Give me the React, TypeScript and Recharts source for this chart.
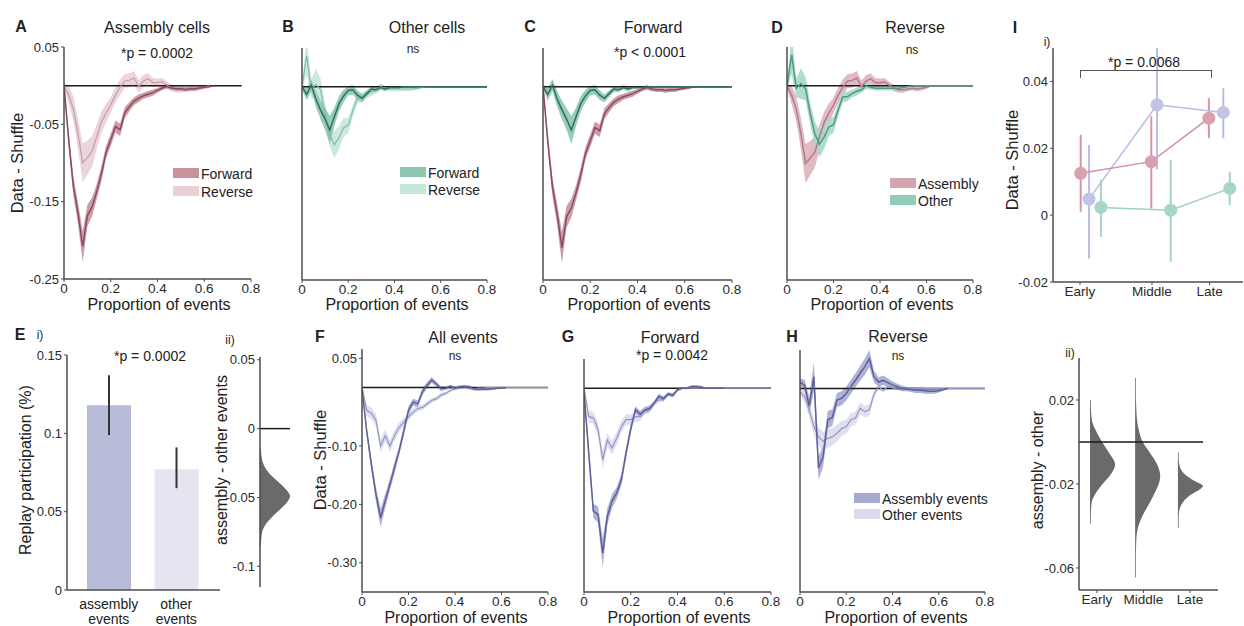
import React from 'react';
import {
  ComposedChart, Area, Line, XAxis, YAxis, ReferenceLine, Scatter, ErrorBar,
  BarChart, Bar, Cell,
} from 'recharts';

const FONT = '"Liberation Sans", Arial, Helvetica, sans-serif';
const AXIS = '#4d4d4d';
const TICK = { fill: '#2a2a2a', fontSize: 13 };
const XTICK = { fill: '#2a2a2a', fontSize: 13.5 };

// proportion of events (x grid of the curves)
const propX = [
  0, 0.02, 0.04, 0.06, 0.08, 0.1, 0.12, 0.14, 0.16, 0.18, 0.2, 0.22, 0.24, 0.26, 0.28, 0.3,
  0.32, 0.34, 0.36, 0.38, 0.4, 0.42, 0.44, 0.46, 0.48, 0.5, 0.52, 0.54, 0.56, 0.58, 0.6,
  0.62, 0.64, 0.66, 0.68, 0.7, 0.72, 0.74, 0.76, 0.78, 0.8,
];

// assembly cells, forward / reverse
const asmFwd = [0, -0.07, -0.13, -0.165, -0.208, -0.168, -0.157, -0.137, -0.114, -0.086, -0.07, -0.053, -0.057, -0.035, -0.027, -0.02, -0.016, -0.013, -0.011, -0.009, -0.006, -0.003, -0.001, -0.003, -0.004, -0.004, -0.005, -0.004, -0.004, -0.003, -0.002, -0.001, 0];
const asmFwdSem = [0.004, 0.01, 0.012, 0.014, 0.02, 0.014, 0.012, 0.01, 0.01, 0.008, 0.008, 0.008, 0.008, 0.007, 0.006, 0.005, 0.005, 0.004, 0.004, 0.004, 0.003, 0.003, 0.003, 0.003, 0.003, 0.003, 0.003, 0.003, 0.003, 0.002, 0.002, 0.002, 0.001];
const asmRev = [0, -0.012, -0.03, -0.062, -0.1, -0.093, -0.085, -0.066, -0.047, -0.035, -0.025, -0.012, -0.002, 0.006, 0.007, 0.01, -0.001, 0.006, 0.009, 0.004, 0.004, 0.005, 0.001, -0.003, -0.005, -0.005, -0.004, -0.003, -0.004, -0.003, -0.002, 0];
const asmRevSem = [0.003, 0.012, 0.016, 0.02, 0.025, 0.022, 0.02, 0.016, 0.014, 0.012, 0.01, 0.01, 0.01, 0.009, 0.009, 0.009, 0.008, 0.008, 0.007, 0.006, 0.005, 0.005, 0.004, 0.004, 0.004, 0.004, 0.003, 0.003, 0.003, 0.003, 0.002, 0.001];

// other cells, forward / reverse
const othFwd = [0, -0.01, 0.002, -0.016, -0.03, -0.042, -0.056, -0.039, -0.022, -0.012, -0.005, -0.004, -0.011, -0.015, -0.009, -0.003, -0.004, -0.001, -0.003, -0.001, -0.001, -0.001, 0, 0, 0, 0, 0, 0, 0, 0, 0, 0, 0, 0, 0, 0, 0, 0, 0, 0, 0];
const othFwdSem = [0.003, 0.008, 0.008, 0.01, 0.012, 0.014, 0.018, 0.012, 0.01, 0.008, 0.006, 0.006, 0.006, 0.005, 0.004, 0.004, 0.003, 0.003, 0.003, 0.002, 0.002, 0.002, 0.001, 0.001, 0.001, 0.001, 0.001, 0.001, 0.001, 0.001, 0.001, 0.001, 0.001, 0.001, 0.001, 0.001, 0.001, 0.001, 0.001, 0.001, 0.001];
const othRev = [0, 0.04, -0.003, 0.003, -0.004, -0.036, -0.062, -0.075, -0.066, -0.053, -0.05, -0.031, -0.014, -0.014, -0.01, -0.007, -0.005, 0, -0.002, -0.003, -0.003, -0.003, -0.003, -0.003, -0.003, -0.002, -0.001, 0, 0, 0, 0, 0, 0, 0, 0, 0, 0, 0, 0, 0, 0];
const othRevSem = [0.004, 0.025, 0.012, 0.02, 0.015, 0.014, 0.016, 0.017, 0.015, 0.012, 0.01, 0.008, 0.007, 0.006, 0.005, 0.005, 0.004, 0.004, 0.003, 0.003, 0.003, 0.003, 0.003, 0.003, 0.002, 0.002, 0.001, 0.001, 0.001, 0.001, 0.001, 0.001, 0.001, 0.001, 0.001, 0.001, 0.001, 0.001, 0.001, 0.001, 0.001];

// assembly events vs other events: all / forward / reverse
const evAsmAll = [0, -0.074, -0.131, -0.183, -0.223, -0.194, -0.166, -0.137, -0.108, -0.074, -0.039, -0.025, -0.028, -0.007, 0.004, 0.013, 0.006, -0.002, -0.001, 0.002, -0.001, 0.001, 0.002, 0.001, -0.002, -0.003, -0.003, -0.003, -0.002, -0.001, -0.001, 0];
const evAsmAllSem = [0.003, 0.008, 0.01, 0.012, 0.016, 0.012, 0.01, 0.01, 0.008, 0.008, 0.007, 0.006, 0.006, 0.006, 0.005, 0.005, 0.004, 0.004, 0.003, 0.003, 0.003, 0.003, 0.003, 0.003, 0.003, 0.003, 0.002, 0.002, 0.002, 0.002, 0.001, 0.001];
const evOthAll = [0, -0.039, -0.044, -0.056, -0.1, -0.082, -0.1, -0.082, -0.068, -0.059, -0.05, -0.042, -0.036, -0.034, -0.028, -0.022, -0.019, -0.013, -0.01, -0.005, -0.002, 0.002, 0.001, -0.002, -0.002, -0.001, -0.001, 0, 0, 0, 0, 0, 0, 0, 0, 0, 0, 0, 0, 0, 0];
const evOthAllSem = [0.004, 0.01, 0.01, 0.01, 0.012, 0.01, 0.01, 0.009, 0.008, 0.007, 0.006, 0.006, 0.005, 0.005, 0.005, 0.004, 0.004, 0.004, 0.003, 0.003, 0.003, 0.002, 0.002, 0.002, 0.002, 0.001, 0.001, 0.001, 0.001, 0.001, 0.001, 0.001, 0.001, 0.001, 0.001, 0.001, 0.001, 0.001, 0.001, 0.001, 0.001];
const evAsmFwd = [-0.006, -0.11, -0.211, -0.217, -0.283, -0.22, -0.194, -0.18, -0.157, -0.111, -0.07, -0.037, -0.045, -0.038, -0.035, -0.026, -0.014, -0.018, -0.01, -0.012, -0.003, 0, 0, 0.003, 0.003, 0.002, 0, 0, 0, 0, 0];
const evAsmFwdSem = [0.004, 0.015, 0.012, 0.014, 0.025, 0.014, 0.012, 0.01, 0.01, 0.01, 0.008, 0.006, 0.006, 0.005, 0.005, 0.004, 0.004, 0.004, 0.003, 0.003, 0.003, 0.002, 0.002, 0.002, 0.002, 0.002, 0.001, 0.001, 0.001, 0.001, 0.001];
const evOthFwd = [0, -0.049, -0.051, -0.071, -0.123, -0.089, -0.103, -0.086, -0.066, -0.054, -0.054, -0.049, -0.049, -0.038, -0.037, -0.026, -0.02, -0.02, -0.011, -0.014, -0.003, 0, 0, 0, 0, 0, 0, 0, 0, 0, 0, 0, 0, 0, 0, 0, 0, 0, 0, 0, 0];
const evOthFwdSem = [0.004, 0.01, 0.01, 0.012, 0.016, 0.012, 0.012, 0.011, 0.01, 0.009, 0.009, 0.009, 0.008, 0.007, 0.006, 0.005, 0.005, 0.004, 0.004, 0.003, 0.002, 0.001, 0.001, 0.001, 0.001, 0.001, 0.001, 0.001, 0.001, 0.001, 0.001, 0.001, 0.001, 0.001, 0.001, 0.001, 0.001, 0.001, 0.001, 0.001, 0.001];
const evAsmRev = [0.011, 0.005, -0.03, 0.02, -0.137, -0.117, -0.054, -0.05, -0.02, -0.017, -0.009, 0.003, 0.014, 0.026, 0.037, 0.051, 0.02, 0.011, 0.014, 0.01, 0.006, 0.003, 0, -0.001, -0.002, -0.003, -0.003, -0.004, -0.005, -0.005, -0.004, -0.002, 0];
const evAsmRevSem = [0.006, 0.01, 0.015, 0.025, 0.02, 0.018, 0.015, 0.014, 0.012, 0.012, 0.012, 0.012, 0.012, 0.013, 0.014, 0.015, 0.01, 0.008, 0.008, 0.007, 0.006, 0.005, 0.005, 0.004, 0.004, 0.005, 0.005, 0.005, 0.004, 0.004, 0.003, 0.002, 0.001];
const evOthRev = [-0.006, -0.014, -0.037, -0.066, -0.083, -0.091, -0.086, -0.083, -0.077, -0.069, -0.066, -0.054, -0.051, -0.034, -0.04, -0.037, -0.01, 0.003, -0.003, 0.003, 0.001, -0.001, 0, 0, 0, 0, 0, 0, 0, 0, 0, 0, 0, 0, 0, 0, 0, 0, 0, 0, 0];
const evOthRevSem = [0.006, 0.01, 0.012, 0.014, 0.016, 0.016, 0.016, 0.015, 0.014, 0.013, 0.012, 0.012, 0.011, 0.01, 0.01, 0.01, 0.006, 0.005, 0.004, 0.004, 0.003, 0.002, 0.001, 0.001, 0.001, 0.001, 0.001, 0.001, 0.001, 0.001, 0.001, 0.001, 0.001, 0.001, 0.001, 0.001, 0.001, 0.001, 0.001, 0.001, 0.001];

// E i) replay participation
const barCats = ['assembly events', 'other events'];
const barVals = [0.118, 0.077];
const barLo = [0.099, 0.065];
const barHi = [0.137, 0.091];

// E ii) assembly - other events distribution
const distEY = [-0.085, -0.078, -0.073, -0.068, -0.063, -0.058, -0.053, -0.049, -0.045, -0.04, -0.035, -0.03, -0.025, -0.02, -0.014];
const distEW = [0.03, 0.05, 0.1, 0.24, 0.45, 0.7, 0.92, 1, 0.9, 0.68, 0.42, 0.22, 0.1, 0.05, 0.03];

// I i) early / middle / late
const stagePos = [0, 1, 1.8];
const stageNames = ['Early', 'Middle', 'Late'];
const pinkX = [0.01, 0.99, 1.79];
const pinkMean = [0.0125, 0.016, 0.029];
const pinkLo = [0.001, 0.002, 0.023];
const pinkHi = [0.024, 0.0296, 0.035];
const lavX = [0.125, 1.07, 1.99];
const lavMean = [0.0048, 0.033, 0.0307];
const lavLo = [-0.013, 0.0137, 0.023];
const lavHi = [0.021, 0.05, 0.038];
const tealX = [0.29, 1.26, 2.08];
const tealMean = [0.0023, 0.0015, 0.008];
const tealLo = [-0.0065, -0.014, 0.003];
const tealHi = [0.0105, 0.0165, 0.013];

// I ii) assembly - other per stage
const violinBase = [0.85, 1.82, 2.74];
const violinEarlyY = [-0.039, -0.032, -0.028, -0.025, -0.02, -0.015, -0.0107, -0.005, 0, 0.005, 0.01, 0.015, 0.02];
const violinEarlyW = [0.03, 0.04, 0.08, 0.2, 0.5, 0.85, 1, 0.75, 0.48, 0.25, 0.08, 0.04, 0.03];
const violinMiddleY = [-0.0645, -0.055, -0.046, -0.04, -0.035, -0.03, -0.025, -0.0163, -0.01, -0.005, 0, 0.005, 0.01, 0.015, 0.022, 0.0305];
const violinMiddleW = [0.03, 0.03, 0.05, 0.13, 0.3, 0.53, 0.75, 1, 0.85, 0.58, 0.3, 0.16, 0.08, 0.05, 0.03, 0.03];
const violinLateY = [-0.041, -0.036, -0.033, -0.03, -0.027, -0.025, -0.023, -0.021, -0.019, -0.016, -0.0135, -0.0115, -0.008, -0.005];
const violinLateW = [0.03, 0.03, 0.05, 0.13, 0.32, 0.53, 0.82, 1, 0.72, 0.33, 0.14, 0.07, 0.03, 0.03];

type Rect = { L: number; T: number; R: number; B: number };
type Trace = { key: string; mean: (number | null)[]; sem: number[]; band: string; line: string; width?: number };

function curveRows(traces: Trace[]) {
  return propX.map((x, i) => {
    const r: Record<string, unknown> = { x };
    traces.forEach((t) => {
      const m = t.mean[i];
      const e = t.sem[i] ?? 0;
      r[t.key] = m ?? null;
      r[t.key + '_band'] = m == null ? null : [m - e, m + e];
    });
    return r;
  });
}

function CurvePanel({ rect, domain, ticks, labelled, fmt, traces, zeroEnd }: {
  rect: Rect; domain: [number, number]; ticks: number[]; labelled?: boolean;
  fmt?: (v: number) => string; traces: Trace[]; zeroEnd: number;
}) {
  const yw = labelled ? 44 : 10;
  const mt = 8, mr = 14, xh = 24;
  const rows = curveRows(traces);
  return (
    <div style={{ position: 'absolute', left: rect.L - yw, top: rect.T - mt }}>
      <ComposedChart width={yw + rect.R - rect.L + mr} height={mt + rect.B - rect.T + xh} data={rows}
        margin={{ top: mt, right: mr, bottom: 0, left: 0 }}>
        <XAxis type="number" dataKey="x" domain={[0, 0.8]} ticks={[0, 0.2, 0.4, 0.6, 0.8]} interval={0}
          allowDataOverflow height={xh} axisLine={{ stroke: AXIS, strokeWidth: 1.5 }}
          tickLine={{ stroke: AXIS }} tickSize={3} tickMargin={1} tick={XTICK} />
        <YAxis type="number" domain={domain} ticks={ticks} interval={0} allowDataOverflow width={yw}
          axisLine={{ stroke: AXIS, strokeWidth: 1.5 }} tickLine={{ stroke: AXIS }} tickSize={3}
          tick={labelled ? TICK : false} tickFormatter={fmt} />
        <ReferenceLine segment={[{ x: 0, y: 0 }, { x: zeroEnd, y: 0 }]} stroke="#1a1a1a" strokeWidth={1.5} ifOverflow="visible" />
        {traces.map((t) => (
          <Area key={t.key + '_b'} dataKey={t.key + '_band'} type="linear" stroke="none" fill={t.band}
            fillOpacity={0.9} dot={false} activeDot={false} isAnimationActive={false} />
        ))}
        {traces.map((t) => (
          <Line key={t.key + '_l'} dataKey={t.key} type="linear" stroke={t.line} strokeWidth={t.width ?? 1.5}
            dot={false} activeDot={false} isAnimationActive={false} />
        ))}
      </ComposedChart>
    </div>
  );
}

function violinRows(ys: number[], ws: number[], base: number, scale: number) {
  return ys.map((y, i) => ({ y, d: [base, base + ws[i] * scale] }));
}

function ViolinPanel({ rect, yDomain, yTicks, xDomain, xTicks, xNames, shapes, zeroTo }: {
  rect: Rect; yDomain: [number, number]; yTicks: number[]; xDomain: [number, number];
  xTicks?: number[]; xNames?: string[]; shapes: { y: number; d: number[] }[][]; zeroTo: number;
}) {
  const yw = 40, mt = 8, mr = 8;
  const xh = xTicks ? 24 : 0;
  const mb = xTicks ? 0 : 6;
  return (
    <div style={{ position: 'absolute', left: rect.L - yw, top: rect.T - mt }}>
      <ComposedChart layout="vertical" width={yw + rect.R - rect.L + mr} height={mt + rect.B - rect.T + xh + mb}
        margin={{ top: mt, right: mr, bottom: mb, left: 0 }}>
        <XAxis type="number" domain={xDomain} ticks={xTicks} interval={0} hide={!xTicks} allowDataOverflow height={xh}
          axisLine={{ stroke: AXIS, strokeWidth: 1.5 }} tickLine={{ stroke: AXIS }} tickSize={3} tickMargin={1}
          tick={XTICK}
          tickFormatter={(v: number) => (xNames && xTicks ? xNames[xTicks.indexOf(v)] ?? '' : String(v))} />
        <YAxis type="number" dataKey="y" domain={yDomain} ticks={yTicks} interval={0} allowDataOverflow width={yw} reversed
          axisLine={{ stroke: AXIS, strokeWidth: 1.5 }} tickLine={{ stroke: AXIS }} tickSize={3} tick={TICK} />
        <ReferenceLine segment={[{ x: xDomain[0], y: 0 }, { x: zeroTo, y: 0 }]} stroke="#1a1a1a" strokeWidth={1.5} ifOverflow="visible" />
        {shapes.map((rows, i) => (
          <Area key={i} data={rows} dataKey="d" type="monotone" stroke="none" fill="#6a6a6a" fillOpacity={1}
            dot={false} activeDot={false} isAnimationActive={false} />
        ))}
      </ComposedChart>
    </div>
  );
}

function TwoLineTick({ x, y, payload }: any) {
  const [a, b] = String(payload.value).split(' ');
  return (
    <text x={x} y={y} textAnchor="middle" fill="#222" fontSize={14}>
      <tspan x={x} dy={11}>{a}</tspan>
      <tspan x={x} dy={15}>{b}</tspan>
    </text>
  );
}

function Txt({ x, y, size = 14, bold, rotate, align = 'center', children }: any) {
  const tx = align === 'center' ? '-50%' : align === 'right' ? '-100%' : '0';
  return (
    <div style={{
      position: 'absolute', left: x, top: y, fontSize: size, fontWeight: bold ? 700 : 400, lineHeight: 1,
      whiteSpace: 'nowrap', transform: `translate(${tx}, -50%)` + (rotate ? ' rotate(-90deg)' : ''),
    }}>{children}</div>
  );
}

function Swatch({ x, y, color, label }: { x: number; y: number; color: string; label: string }) {
  return (
    <>
      <div style={{ position: 'absolute', left: x, top: y, width: 26, height: 10, background: color }} />
      <Txt x={x + 28} y={y + 5.5} align="left" size={14}>{label}</Txt>
    </>
  );
}

const stageRows = (xs: number[], m: number[], lo: number[], hi: number[]) =>
  xs.map((x, i) => ({ x, y: m[i], err: [m[i] - lo[i], hi[i] - m[i]] }));

const dot = (fill: string) => (p: any) => <circle cx={p.cx} cy={p.cy} r={6.5} fill={fill} />;

export default function App() {
  const cellDomain: [number, number] = [-0.25, 0.05];
  const cellTicks = [0.05, 0, -0.05, -0.1, -0.15, -0.2, -0.25];
  const fmt2 = (v: number) => v.toFixed(2);

  const barRows = barCats.map((name, i) => ({ name, v: barVals[i], err: [barVals[i] - barLo[i], barHi[i] - barVals[i]] }));
  const barFill = ['#b9bcd9', '#e4e5f1'];

  const pinkRows = stageRows(pinkX, pinkMean, pinkLo, pinkHi);
  const lavRows = stageRows(lavX, lavMean, lavLo, lavHi);
  const tealRows = stageRows(tealX, tealMean, tealLo, tealHi);

  return (
    <div style={{ position: 'absolute', left: 0, top: 0, width: 1244, height: 626, overflow: 'hidden', background: '#fff', fontFamily: FONT, color: '#222' }}>
      {/* A */}
      <CurvePanel rect={{ L: 64, T: 47, R: 251, B: 279 }} domain={cellDomain} ticks={[0.05, -0.05, -0.15, -0.25]} labelled zeroEnd={0.76}
        traces={[
          { key: 'rev', mean: asmRev, sem: asmRevSem, band: '#ead0d6', line: '#c59ca7', width: 1.2 },
          { key: 'fwd', mean: asmFwd, sem: asmFwdSem, band: '#c7939f', line: '#8b4b5c' },
        ]} />
      {/* B */}
      <CurvePanel rect={{ L: 302, T: 48, R: 487, B: 280 }} domain={cellDomain} ticks={cellTicks} zeroEnd={0.8}
        traces={[
          { key: 'rev', mean: othRev, sem: othRevSem, band: '#c8e7dc', line: '#7dbda9', width: 1.2 },
          { key: 'fwd', mean: othFwd, sem: othFwdSem, band: '#8cc7b3', line: '#2f6e5f' },
        ]} />
      {/* C */}
      <CurvePanel rect={{ L: 543, T: 48, R: 732, B: 280 }} domain={cellDomain} ticks={cellTicks} zeroEnd={0.8}
        traces={[
          { key: 'asm', mean: asmFwd, sem: asmFwdSem, band: '#c7939f', line: '#8b4b5c' },
          { key: 'oth', mean: othFwd, sem: othFwdSem, band: '#8cc7b3', line: '#2f6e5f' },
        ]} />
      {/* D */}
      <CurvePanel rect={{ L: 787, T: 47, R: 973, B: 280 }} domain={cellDomain} ticks={cellTicks} zeroEnd={0.8}
        traces={[
          { key: 'asm', mean: asmRev, sem: asmRevSem, band: '#ddb4be', line: '#b27c8a' },
          { key: 'oth', mean: othRev, sem: othRevSem, band: '#a8d8c7', line: '#4e9a86' },
        ]} />
      {/* F */}
      <CurvePanel rect={{ L: 362, T: 349, R: 548, B: 592 }} domain={[-0.35, 0.066]} ticks={[0.05, -0.1, -0.2, -0.3]} labelled fmt={fmt2} zeroEnd={0.8}
        traces={[
          { key: 'oth', mean: evOthAll, sem: evOthAllSem, band: '#dcdcef', line: '#9497bf', width: 1.2 },
          { key: 'asm', mean: evAsmAll, sem: evAsmAllSem, band: '#a6a9d1', line: '#5d6195' },
        ]} />
      {/* G */}
      <CurvePanel rect={{ L: 584, T: 359, R: 771, B: 592 }} domain={[-0.35, 0.05]} ticks={[0.05, 0, -0.1, -0.2, -0.3]} zeroEnd={0.8}
        traces={[
          { key: 'oth', mean: evOthFwd, sem: evOthFwdSem, band: '#dcdcef', line: '#9497bf', width: 1.2 },
          { key: 'asm', mean: evAsmFwd, sem: evAsmFwdSem, band: '#a6a9d1', line: '#5d6195' },
        ]} />
      {/* H */}
      <CurvePanel rect={{ L: 800, T: 350, R: 985, B: 592 }} domain={[-0.35, 0.066]} ticks={[0, -0.1, -0.2, -0.3]} zeroEnd={0.8}
        traces={[
          { key: 'oth', mean: evOthRev, sem: evOthRevSem, band: '#dcdcef', line: '#9497bf', width: 1.2 },
          { key: 'asm', mean: evAsmRev, sem: evAsmRevSem, band: '#a6a9d1', line: '#5d6195' },
        ]} />

      {/* E i) */}
      <div style={{ position: 'absolute', left: 67 - 44, top: 355 - 8 }}>
        <BarChart width={44 + 153 + 8} height={8 + 235 + 40} data={barRows} barSize={44}
          margin={{ top: 8, right: 8, bottom: 0, left: 0 }}>
          <XAxis dataKey="name" type="category" height={40} padding={{ left: 8, right: 10 }} interval={0}
            axisLine={{ stroke: AXIS, strokeWidth: 1.5 }} tickLine={false} tick={<TwoLineTick />} />
          <YAxis type="number" domain={[0, 0.15]} ticks={[0, 0.05, 0.1, 0.15]} interval={0} width={44}
            axisLine={{ stroke: AXIS, strokeWidth: 1.5 }} tickLine={{ stroke: AXIS }} tickSize={3} tick={TICK} />
          <Bar dataKey="v" isAnimationActive={false}>
            {barRows.map((r, i) => <Cell key={r.name} fill={barFill[i]} />)}
            <ErrorBar dataKey="err" direction="y" width={0} stroke="#333" strokeWidth={2} />
          </Bar>
        </BarChart>
      </div>

      {/* E ii) */}
      <ViolinPanel rect={{ L: 260, T: 357, R: 290, B: 587 }} yDomain={[-0.115, 0.052]} yTicks={[0.05, 0, -0.05, -0.1]}
        xDomain={[0, 1]} zeroTo={1} shapes={[violinRows(distEY, distEW, 0, 1)]} />

      {/* I i) */}
      <div style={{ position: 'absolute', left: 1053 - 44, top: 48 - 8 }}>
        <ComposedChart width={44 + 190 + 4} height={8 + 234 + 24} margin={{ top: 8, right: 4, bottom: 0, left: 0 }}>
          <XAxis type="number" dataKey="x" domain={[-0.375, 2.264]} ticks={stagePos} interval={0} allowDataOverflow height={24}
            axisLine={{ stroke: AXIS, strokeWidth: 1.5 }} tickLine={{ stroke: AXIS }} tickSize={3} tickMargin={1}
            tick={XTICK} tickFormatter={(v: number) => stageNames[stagePos.indexOf(v)] ?? ''} />
          <YAxis type="number" dataKey="y" domain={[-0.02, 0.05]} ticks={[-0.02, 0, 0.02, 0.04]} interval={0} allowDataOverflow width={44}
            axisLine={{ stroke: AXIS, strokeWidth: 1.5 }} tickLine={{ stroke: AXIS }} tickSize={3} tick={TICK} />
          <Scatter data={lavRows} dataKey="y" fill="#c3c4e5" line={{ stroke: '#b9bbe0', strokeWidth: 1.5 }} lineType="joint"
            shape={dot('#c3c4e5')} isAnimationActive={false}>
            <ErrorBar dataKey="err" direction="y" width={0} stroke="#bcbde1" strokeWidth={2} />
          </Scatter>
          <Scatter data={tealRows} dataKey="y" fill="#a6d7c5" line={{ stroke: '#9fd2bf', strokeWidth: 1.5 }} lineType="joint"
            shape={dot('#a6d7c5')} isAnimationActive={false}>
            <ErrorBar dataKey="err" direction="y" width={0} stroke="#a3d5c2" strokeWidth={2} />
          </Scatter>
          <Scatter data={pinkRows} dataKey="y" fill="#d9a1ac" line={{ stroke: '#d4919f', strokeWidth: 1.5 }} lineType="joint"
            shape={dot('#d9a1ac')} isAnimationActive={false}>
            <ErrorBar dataKey="err" direction="y" width={0} stroke="#d696a3" strokeWidth={2} />
          </Scatter>
        </ComposedChart>
      </div>
      <div style={{ position: 'absolute', left: 1080, top: 70, width: 130, height: 7, borderTop: '1.5px solid #555', borderLeft: '1.5px solid #555', borderRight: '1.5px solid #555' }} />

      {/* I ii) */}
      <ViolinPanel rect={{ L: 1079, T: 358, R: 1218, B: 590 }} yDomain={[-0.0705, 0.04]} yTicks={[0.02, -0.02, -0.06]}
        xDomain={[0.613, 3.602]} xTicks={[1, 2, 3]} xNames={stageNames} zeroTo={3.28}
        shapes={[
          violinRows(violinEarlyY, violinEarlyW, violinBase[0], 0.54),
          violinRows(violinMiddleY, violinMiddleW, violinBase[1], 0.54),
          violinRows(violinLateY, violinLateW, violinBase[2], 0.54),
        ]} />

      {/* top row text */}
      <Txt x={21} y={27} size={16} bold>A</Txt>
      <Txt x={157} y={28} size={16}>Assembly cells</Txt>
      <Txt x={157} y={53} size={14}>*p = 0.0002</Txt>
      <Txt x={17} y={163} size={16.5} rotate>Data - Shuffle</Txt>
      <Txt x={159} y={305} size={16}>Proportion of events</Txt>
      <Swatch x={173} y={168} color="#c7939f" label="Forward" />
      <Swatch x={173} y={186} color="#ead0d6" label="Reverse" />

      <Txt x={288} y={27} size={16} bold>B</Txt>
      <Txt x={427} y={28} size={16}>Other cells</Txt>
      <Txt x={413} y={49} size={12}>ns</Txt>
      <Txt x={397} y={305} size={16}>Proportion of events</Txt>
      <Swatch x={400} y={167} color="#8cc7b3" label="Forward" />
      <Swatch x={400} y={184} color="#c8e7dc" label="Reverse" />

      <Txt x={530} y={27} size={16} bold>C</Txt>
      <Txt x={653} y={28} size={16}>Forward</Txt>
      <Txt x={650} y={52} size={14}>*p &lt; 0.0001</Txt>
      <Txt x={639} y={305} size={16}>Proportion of events</Txt>

      <Txt x={777} y={28} size={16} bold>D</Txt>
      <Txt x={915} y={28} size={16}>Reverse</Txt>
      <Txt x={912} y={50} size={12}>ns</Txt>
      <Txt x={882} y={305} size={16}>Proportion of events</Txt>
      <Swatch x={890} y={178} color="#d4a5b0" label="Assembly" />
      <Swatch x={890} y={195} color="#92cbb8" label="Other" />

      <Txt x={1015} y={28} size={16} bold>I</Txt>
      <Txt x={1047} y={42} size={12}>i)</Txt>
      <Txt x={1144} y={62} size={14}>*p = 0.0068</Txt>
      <Txt x={1012} y={160} size={16.5} rotate>Data - Shuffle</Txt>

      {/* bottom row text */}
      <Txt x={20} y={335} size={16} bold>E</Txt>
      <Txt x={40} y={335} size={12}>i)</Txt>
      <Txt x={150} y={356} size={14}>*p = 0.0002</Txt>
      <Txt x={26} y={470} size={16} rotate>Replay participation (%)</Txt>
      <Txt x={230} y={340} size={12}>ii)</Txt>
      <Txt x={222} y={460} size={16} rotate>assembly - other events</Txt>

      <Txt x={320} y={337} size={16} bold>F</Txt>
      <Txt x={463} y={338} size={16}>All events</Txt>
      <Txt x={455} y={356} size={12}>ns</Txt>
      <Txt x={320} y={460} size={16.5} rotate>Data - Shuffle</Txt>
      <Txt x={456} y={618} size={16}>Proportion of events</Txt>

      <Txt x={568} y={337} size={16} bold>G</Txt>
      <Txt x={670} y={338} size={16}>Forward</Txt>
      <Txt x={672} y={355} size={14}>*p = 0.0042</Txt>
      <Txt x={679} y={618} size={16}>Proportion of events</Txt>

      <Txt x={792} y={337} size={16} bold>H</Txt>
      <Txt x={898} y={337} size={16}>Reverse</Txt>
      <Txt x={898} y={356} size={12}>ns</Txt>
      <Txt x={896} y={618} size={16}>Proportion of events</Txt>
      <Swatch x={854} y={493} color="#a6a9d1" label="Assembly events" />
      <Swatch x={854} y={509} color="#dcdcef" label="Other events" />

      <Txt x={1070} y={353} size={12}>ii)</Txt>
      <Txt x={1038} y={470} size={16} rotate>assembly - other</Txt>
    </div>
  );
}
